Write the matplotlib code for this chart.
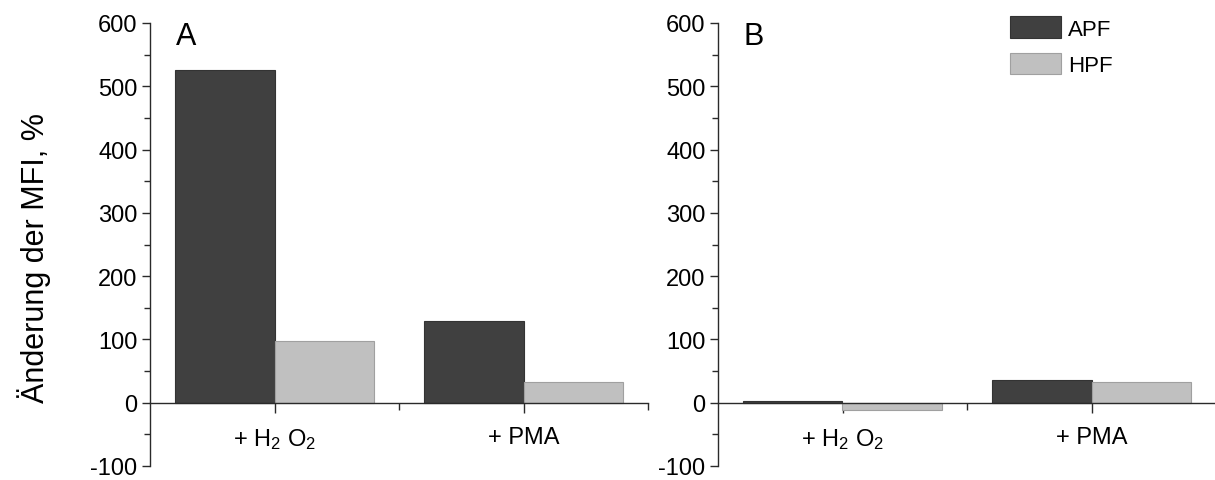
import matplotlib.pyplot as plt
import numpy as np
from matplotlib.ticker import MultipleLocator, FixedLocator

plt.rcParams['font.family'] = ['Liberation Sans', 'DejaVu Sans']
plt.rcParams['mathtext.default'] = 'regular'
plt.rcParams['axes.unicode_minus'] = False

# data
categories = ['+ H$_2$ O$_2$', '+ PMA']
apf_a = [525, 129]
hpf_a = [98, 33]
apf_b = [2, 36]
hpf_b = [-12, 32]
series_names = ['APF', 'HPF']
panel_names = ['A', 'B']

dark = '#404040'
light = '#c0c0c0'
axcol = '#2a2a2a'

fig = plt.figure(figsize=(12.15, 4.81), dpi=100)
ax_a = fig.add_axes([150/1215, 14/481, 498/1215, 443/481])
ax_b = fig.add_axes([718/1215, 14/481, 498/1215, 443/481])

x = np.arange(1, len(categories) + 1)
w = 0.4

for ax, apf, hpf, name in [(ax_a, apf_a, hpf_a, panel_names[0]),
                           (ax_b, apf_b, hpf_b, panel_names[1])]:
    ax.bar(x - w/2, apf, w, color=dark, edgecolor='#333333', linewidth=0.8,
           label=series_names[0], zorder=2)
    ax.bar(x + w/2, hpf, w, color=light, edgecolor='#a0a0a0', linewidth=0.8,
           label=series_names[1], zorder=2)
    ax.set_xlim(0.5, 2.5)
    ax.set_ylim(-100, 600)
    ax.spines['top'].set_visible(False)
    ax.spines['right'].set_visible(False)
    ax.spines['bottom'].set_position(('data', 0))
    for s in ['left', 'bottom']:
        ax.spines[s].set_color(axcol)
        ax.spines[s].set_linewidth(1.0)
        ax.spines[s].set_zorder(3)
    ax.yaxis.set_major_locator(MultipleLocator(100))
    ax.yaxis.set_minor_locator(MultipleLocator(50))
    ax.set_xticks(x)
    ax.set_xticklabels(categories)
    ax.xaxis.set_minor_locator(FixedLocator([1.5, 2.5]))
    ax.tick_params(axis='y', which='major', direction='out', length=6,
                   width=1.0, color=axcol, labelsize=17, pad=3)
    ax.tick_params(axis='y', which='minor', direction='out', length=4,
                   width=1.0, color=axcol)
    ax.tick_params(axis='x', which='major', direction='out', length=7,
                   width=1.0, color=axcol, labelsize=17, pad=10)
    ax.tick_params(axis='x', which='minor', direction='out', length=5,
                   width=1.0, color=axcol)
    ax.text(0.072, 0.971, name, transform=ax.transAxes, fontsize=22,
            ha='center', va='center')

fig.text(17/1215, 1 - 258/481, 'Änderung der MFI, %', fontsize=22,
         rotation=90, ha='left', va='center')

ax_b.legend(loc='upper left', bbox_to_anchor=((1010-718)/498, 1.015),
            frameon=False, fontsize=16, handlelength=2.3, handleheight=1.1,
            handletextpad=0.3, labelspacing=0.6, borderpad=0, borderaxespad=0)

fig.savefig('out.png', dpi=100)
